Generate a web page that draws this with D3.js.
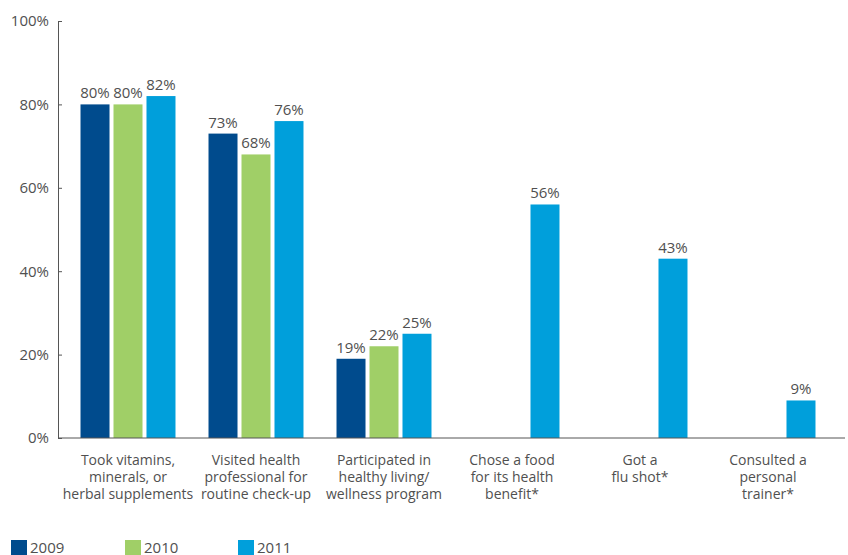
<!DOCTYPE html>
<html>
<head>
<meta charset="utf-8">
<script src="https://cdn.jsdelivr.net/npm/d3@7"></script>
<style>
  body { margin: 0; background: #fff; }
  svg text { font-family: "Open Sans", sans-serif; fill: #505050; }
</style>
</head>
<body>
<div id="chart"></div>
<script>
// categories (multi-line labels) and yearly values, null = not asked that year
var categories = [
    ["Took vitamins,", "minerals, or", "herbal supplements"],
    ["Visited health", "professional for", "routine check-up"],
    ["Participated in", "healthy living/", "wellness program"],
    ["Chose a food", "for its health", "benefit*"],
    ["Got a", "flu shot*"],
    ["Consulted a", "personal", "trainer*"]
];
var years = ["2009", "2010", "2011"];
var values2009 = [80, 73, 19, null, null, null];
var values2010 = [80, 68, 22, null, null, null];
var values2011 = [82, 76, 25, 56, 43, 9];
var yTicks = [0, 20, 40, 60, 80, 100];

var color = d3.scaleOrdinal()
    .domain(years)
    .range(["#004B8D", "#A0CF67", "#009FDB"]);

var width = 848, height = 555;
var margin = {top: 21, left: 58};

var svg = d3.select("#chart").append("svg")
    .attr("width", width)
    .attr("height", height);

var y = d3.scaleLinear()
    .domain([0, 100])
    .range([438, 21]);

var x0 = d3.scaleBand()
    .domain(d3.range(categories.length))
    .range([64, 832])
    .paddingInner(0.258)
    .paddingOuter(0.129);

var x1 = d3.scaleBand()
    .domain(years)
    .range([0, x0.bandwidth()])
    .paddingInner(0.121);

var series = [values2009, values2010, values2011];
var rows = [];
series.forEach((vals, s) => {
    vals.forEach((v, i) => {
        if (v != null) rows.push({cat: i, year: years[s], value: v});
    });
});

// bars
svg.append("g").selectAll("rect")
    .data(rows)
    .enter().append("rect")
    .attr("x", (d) => x0(d.cat) + x1(d.year))
    .attr("y", (d) => y(d.value))
    .attr("width", x1.bandwidth())
    .attr("height", (d) => y(0) - y(d.value))
    .attr("fill", (d) => color(d.year));

// value labels
svg.append("g").selectAll("text")
    .data(rows)
    .enter().append("text")
    .attr("x", (d) => x0(d.cat) + x1(d.year) + x1.bandwidth() / 2)
    .attr("y", (d) => y(d.value) - 6)
    .attr("text-anchor", "middle")
    .style("font-size", "15px")
    .text((d) => d.value + "%");

// y axis
var yAxis = svg.append("g")
    .attr("transform", "translate(" + margin.left + ",0)")
    .call(d3.axisLeft(y).tickValues(yTicks).tickSizeInner(-4).tickSizeOuter(0).tickPadding(9)
        .tickFormat((d) => d + "%"));
yAxis.select(".domain").attr("stroke", "#555");
yAxis.selectAll(".tick line").attr("stroke", "#555");
yAxis.selectAll(".tick text").style("font-size", "15px").attr("fill", "#505050")
    .attr("font-family", null);

// baseline
svg.append("line")
    .attr("x1", margin.left).attr("x2", 845)
    .attr("y1", y(0)).attr("y2", y(0))
    .attr("stroke", "#555");

// category labels
var catLabels = svg.append("g").selectAll("text")
    .data(categories)
    .enter().append("text")
    .attr("x", (d, i) => x0(i) + x0.bandwidth() / 2)
    .attr("y", 465)
    .attr("text-anchor", "middle")
    .style("font-size", "14px");
catLabels.selectAll("tspan")
    .data((d) => d)
    .enter().append("tspan")
    .attr("x", function () { return this.parentNode.getAttribute("x"); })
    .attr("dy", (d, j) => j === 0 ? 0 : 17)
    .text((d) => d);

// legend
var legendX = [11, 125, 238];
var legend = svg.append("g").selectAll("g")
    .data(years)
    .enter().append("g")
    .attr("transform", (d, i) => "translate(" + legendX[i] + ",540)");
legend.append("rect")
    .attr("width", 16).attr("height", 15)
    .attr("fill", (d) => color(d));
legend.append("text")
    .attr("x", 19).attr("y", 13)
    .style("font-size", "15px")
    .text((d) => d);
</script>
</body>
</html>
